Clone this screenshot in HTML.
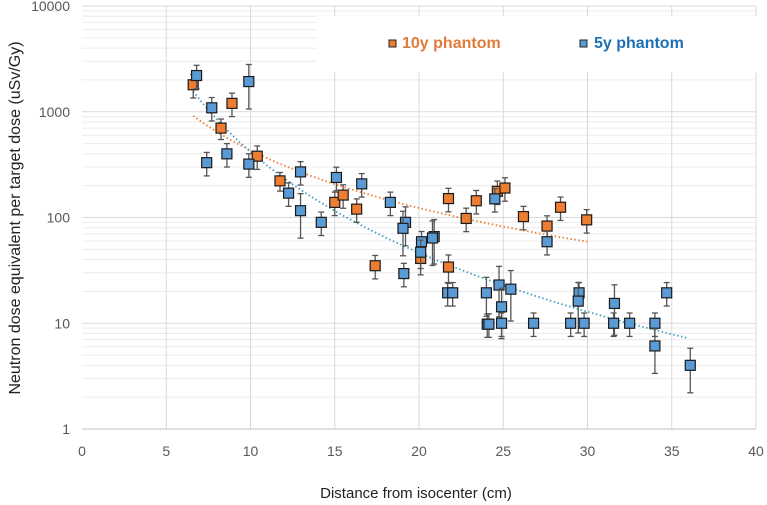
<!DOCTYPE html>
<html><head><meta charset="utf-8"><style>
html,body{margin:0;padding:0;background:#fff;}
svg{display:block;font-family:"Liberation Sans",sans-serif;}
</style></head><body>
<svg id="chart" width="767" height="505" viewBox="0 0 767 505" xmlns="http://www.w3.org/2000/svg">
<g id="grid"></g>
<rect x="316" y="16" width="451" height="56" fill="#fff"/>
<g id="axes"></g>
<g id="trends"></g>
<g id="marks"></g>
<g>
<rect x="389" y="40" width="7" height="7" fill="#ed7d31" stroke="#222" stroke-width="1"/>
<text x="402" y="48" font-size="16" font-weight="bold" fill="#e07b39">10y phantom</text>
<rect x="580" y="40" width="7" height="7" fill="#5b9bd5" stroke="#222" stroke-width="1"/>
<text x="594" y="48" font-size="16" font-weight="bold" fill="#1f6fb5">5y phantom</text>
</g>
<text transform="translate(20,218) rotate(-90)" text-anchor="middle" font-size="16" fill="#222">Neutron  dose equivalent per target dose (uSv/Gy)</text>
<text x="416" y="498" text-anchor="middle" font-size="15" fill="#222">Distance from isocenter (cm)</text>
</svg>
<script>
const xTicks=[0,5,10,15,20,25,30,35,40];
const yTicks=[1,10,100,1000,10000];
const yTickLabels=["1","10","100","1000","10000"];
const orangeX=[6.6,8.9,8.25,10.4,11.75,15.0,15.5,16.3,17.4,20.1,21.75,21.75,23.4,22.8,24.65,25.1,26.2,27.6,28.4,29.95];
const orangeY=[1800,1200,700,380,222,139,163,120,35,41,34,151,144,98,177,190,102,83,125,95];
const orangeErr=[0.25,0.25,0.22,0.25,0.2,0.25,0.25,0.25,0.25,0.3,0.3,0.25,0.25,0.25,0.25,0.25,0.25,0.25,0.25,0.25];
const blueX=[6.8,9.9,7.7,7.4,8.6,9.9,12.97,12.26,12.97,14.2,15.1,16.6,18.3,19.2,19.05,19.1,20.15,20.1,20.9,20.8,21.7,22.0,24.0,24.05,24.15,24.75,24.9,24.9,25.45,24.5,26.8,27.6,29.0,29.5,29.45,29.8,31.6,31.55,32.5,34.0,34.0,34.7,36.1];
const blueY=[2200,1930,1090,330,400,320,270,170,116,90,239,208,139,90,79,29.5,59,47,66,64,19.4,19.4,19.4,9.8,9.8,23,14.3,10,21,150,10,59,10,19.4,16.2,10,15.4,10,10,10,6.1,19.4,4.0];
const blueErr=[0.25,0.45,0.25,0.25,0.25,0.25,0.25,0.25,0.45,0.25,0.25,0.25,0.25,0.4,0.45,0.25,0.25,0.3,0.45,0.45,0.25,0.25,0.4,0.25,0.25,0.5,0.5,0.25,0.5,0.25,0.25,0.25,0.25,0.25,0.5,0.25,0.5,0.25,0.25,0.25,0.45,0.25,0.45];
const orangeTrend=[915,6.6,-1.81,6.6,30];
const blueTrend=[1560,6.6,-3.17,6.6,36];
const NS="http://www.w3.org/2000/svg";
const X0=82,XPU=16.85,Y1=429,DEC=105.75;
function sx(v){return X0+v*XPU;}
function sy(v){return Y1-Math.log10(v)*DEC;}
function mk(tag,attrs,parent){const e=document.createElementNS(NS,tag);for(const k in attrs)e.setAttribute(k,attrs[k]);parent.appendChild(e);return e;}
const grid=document.getElementById('grid'),axes=document.getElementById('axes'),trends=document.getElementById('trends'),marks=document.getElementById('marks');
for(let d=0;d<4;d++){for(let m=2;m<=9;m++){const v=m*Math.pow(10,d);
const l=mk('line',{x1:X0,x2:sx(40),y1:sy(v),y2:sy(v),stroke:'#ececec','stroke-width':1},grid);

}}
yTicks.forEach((v,i)=>{
const l=mk('line',{x1:X0,x2:sx(40),y1:sy(v),y2:sy(v),stroke:i==0?'#bfbfbf':'#d9d9d9','stroke-width':1},grid);


const t=mk('text',{x:70,y:sy(v)+5,'text-anchor':'end','font-size':14,fill:'#595959'},axes);t.textContent=yTickLabels[i];

});
xTicks.forEach(v=>{
if(v>0){const l=mk('line',{x1:sx(v),x2:sx(v),y1:sy(10000),y2:Y1,stroke:'#d9d9d9','stroke-width':1},grid);

}
const t=mk('text',{x:sx(v),y:456,'text-anchor':'middle','font-size':14,fill:'#595959'},axes);t.textContent=String(v);

});
const ax=mk('line',{x1:X0,x2:sx(40),y1:Y1,y2:Y1,stroke:'#bfbfbf','stroke-width':1},axes);


function trend(p,color,name){let d='';for(let i=0;i<=60;i++){const x=p[3]+(p[4]-p[3])*i/60;const y=p[0]*Math.pow(x/p[1],p[2]);d+=(i?'L':'M')+sx(x).toFixed(1)+','+sy(y).toFixed(1);}
const e=mk('path',{d:d,fill:'none',stroke:color,'stroke-width':1.8,'stroke-dasharray':'1.5,2.5'},trends);

}
trend(orangeTrend,'#ed7d31','trendline-10y');
trend(blueTrend,'#41a0c0','trendline-5y');
function series(xs,ys,es,fill,name){xs.forEach((x,i)=>{const g=mk('g',{},marks);


const cx=sx(x),hi=sy(ys[i]*(1+es[i])),lo=sy(ys[i]*(1-es[i]));
mk('line',{x1:cx,x2:cx,y1:hi,y2:lo,stroke:'#555','stroke-width':1.3},g);
mk('line',{x1:cx-3,x2:cx+3,y1:hi,y2:hi,stroke:'#555','stroke-width':1.3},g);
mk('line',{x1:cx-3,x2:cx+3,y1:lo,y2:lo,stroke:'#555','stroke-width':1.3},g);
mk('rect',{x:cx-5,y:sy(ys[i])-5,width:10,height:10,fill:fill,stroke:'#1a1a1a','stroke-width':1.2},g);});}
series(orangeX,orangeY,orangeErr,'#ed7d31','orange-10y');
series(blueX,blueY,blueErr,'#5b9bd5','blue-5y');
</script>
</body></html>
